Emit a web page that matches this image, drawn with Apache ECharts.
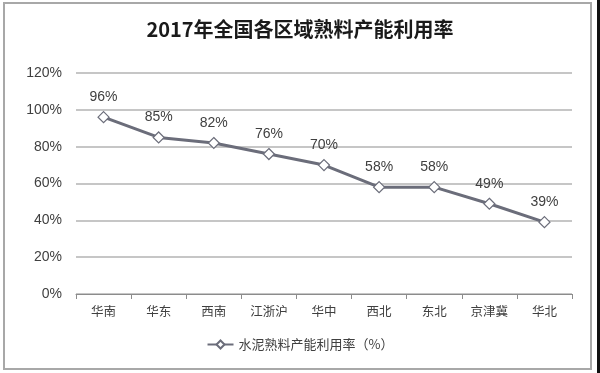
<!DOCTYPE html>
<html><head><meta charset="utf-8">
<script src="https://cdn.jsdelivr.net/npm/echarts@6/dist/echarts.min.js"></script>
<style>html,body{margin:0;padding:0;background:#fff}#c{width:600px;height:373px}</style>
</head><body><div id="c"></div>
<script>
const titleText = '2017年全国各区域熟料产能利用率';
const categories = ['华南','华东','西南','江浙沪','华中','西北','东北','京津冀','华北'];
const seriesName = '水泥熟料产能利用率（%）';
const values = [96, 85, 82, 76, 70, 58, 58, 49, 39];
const yTicks = [0, 20, 40, 60, 80, 100, 120];

const chart = echarts.init(document.getElementById('c'), null, {renderer:'canvas'});
chart.setOption({
  backgroundColor:'#fff',
  animation:false,
  title:{text:titleText,left:'center',top:14,textStyle:{fontFamily:'"Noto Sans CJK SC", sans-serif',fontSize:20,fontWeight:'bold',color:'#1a1a1a'}},
  graphic:[
    {type:'rect',shape:{x:4,y:3,width:587,height:366},style:{fill:'none',stroke:'#a8a8a8',lineWidth:2},silent:true},
    {type:'rect',shape:{x:597,y:0,width:3,height:373},style:{fill:'#111'},silent:true}
  ],
  legend:{bottom:17,left:'center',itemWidth:26,itemHeight:10,itemGap:4,
    textStyle:{fontFamily:'"Noto Sans CJK SC", sans-serif',fontSize:13,color:'#404040'},
    data:[seriesName]},
  grid:{left:76,right:28,top:73,bottom:79},
  xAxis:{type:'category',data:categories,boundaryGap:true,
    axisLine:{lineStyle:{color:'#8c8c8c',width:1}},
    axisTick:{show:true,alignWithLabel:false,length:5,lineStyle:{color:'#8c8c8c'}},
    axisLabel:{margin:11,fontFamily:'"Noto Sans CJK SC", sans-serif',fontSize:12.5,color:'#404040'}},
  yAxis:{type:'value',min:yTicks[0],max:yTicks[yTicks.length-1],interval:20,
    axisLine:{show:false},axisTick:{show:false},
    splitLine:{lineStyle:{color:'#b3b3b3',width:1.5}},
    axisLabel:{margin:14,formatter:'{value}%',fontFamily:'"Liberation Sans", Arial, sans-serif',fontSize:14,color:'#404040'}},
  series:[{name:seriesName,type:'line',data:values,
    symbol:'diamond',symbolSize:11,showAllSymbol:true,
    lineStyle:{color:'#6b6d7a',width:3},
    itemStyle:{color:'#ffffff',borderColor:'#6b6d7a',borderWidth:1.2},
    label:{show:true,position:'top',distance:7,formatter:'{c}%',fontFamily:'"Liberation Sans", Arial, sans-serif',fontSize:14,color:'#404040'}
  }]
});
</script></body></html>
